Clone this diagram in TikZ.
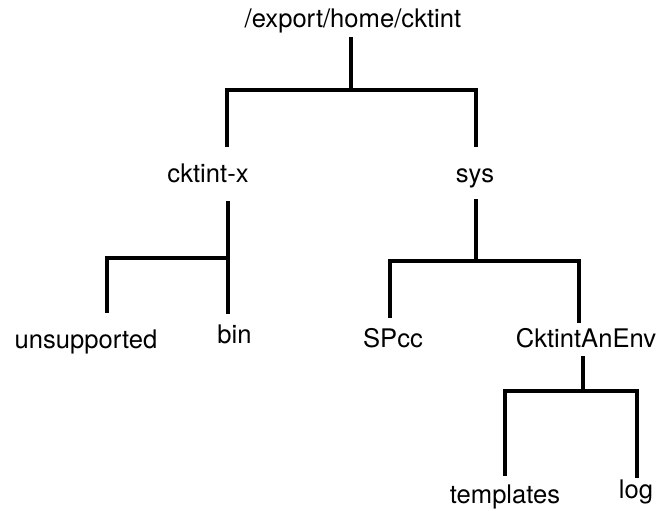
\documentclass[tikz,border=0pt]{standalone}
\usepackage{fontspec}
\setmainfont{TeX Gyre Heros}
\begin{document}
\begin{tikzpicture}[x=1pt,y=-1pt,
  lbl/.style={anchor=base,inner sep=0pt,font=\fontsize{25.6}{30}\selectfont},
  conn/.style={line width=3.2pt,line join=miter,line cap=rect}]
\useasboundingbox (0,0) rectangle (664,511);
% labels
\node[lbl] (root) at (353,28) {/export/home/cktint};
\node[lbl] (cx) at (208,182) {cktint-x};
\node[lbl] (sys) at (475,182) {sys};
\node[lbl] (uns) at (86,348) {unsupported};
\node[lbl] (bin) at (234.5,343) {bin};
\node[lbl] (spcc) at (393,347) {SPcc};
\node[lbl] (cae) at (586,347) {CktintAnEnv};
\node[lbl] (tmpl) at (505,503) {templates};
\node[lbl] (log) at (636,498) {log};
% connector points
\coordinate (rootS) at (351,39);
\coordinate (rootJ) at (351,90);
\coordinate (cxN) at (227,145);
\coordinate (sysN) at (476,145);
\coordinate (cxS) at (228,203);
\coordinate (cxJ) at (228,258);
\coordinate (unsN) at (107,311);
\coordinate (binN) at (228,312);
\coordinate (sysS) at (476,201);
\coordinate (sysJ) at (476,261);
\coordinate (spccN) at (390,316);
\coordinate (caeN) at (579,321);
\coordinate (caeS) at (583,358);
\coordinate (caeJ) at (583,391);
\coordinate (tmplN) at (505,474);
\coordinate (logN) at (637,476);
% connectors
\draw[conn] (rootS) -- (rootJ);
\draw[conn] (cxN) |- (rootJ) -| (sysN);
\draw[conn] (cxS) -- (binN);
\draw[conn] (unsN) |- (cxJ);
\draw[conn] (sysS) -- (sysJ);
\draw[conn] (spccN) |- (sysJ) -| (caeN);
\draw[conn] (caeS) -- (caeJ);
\draw[conn] (tmplN) |- (caeJ) -| (logN);
\end{tikzpicture}
\end{document}
